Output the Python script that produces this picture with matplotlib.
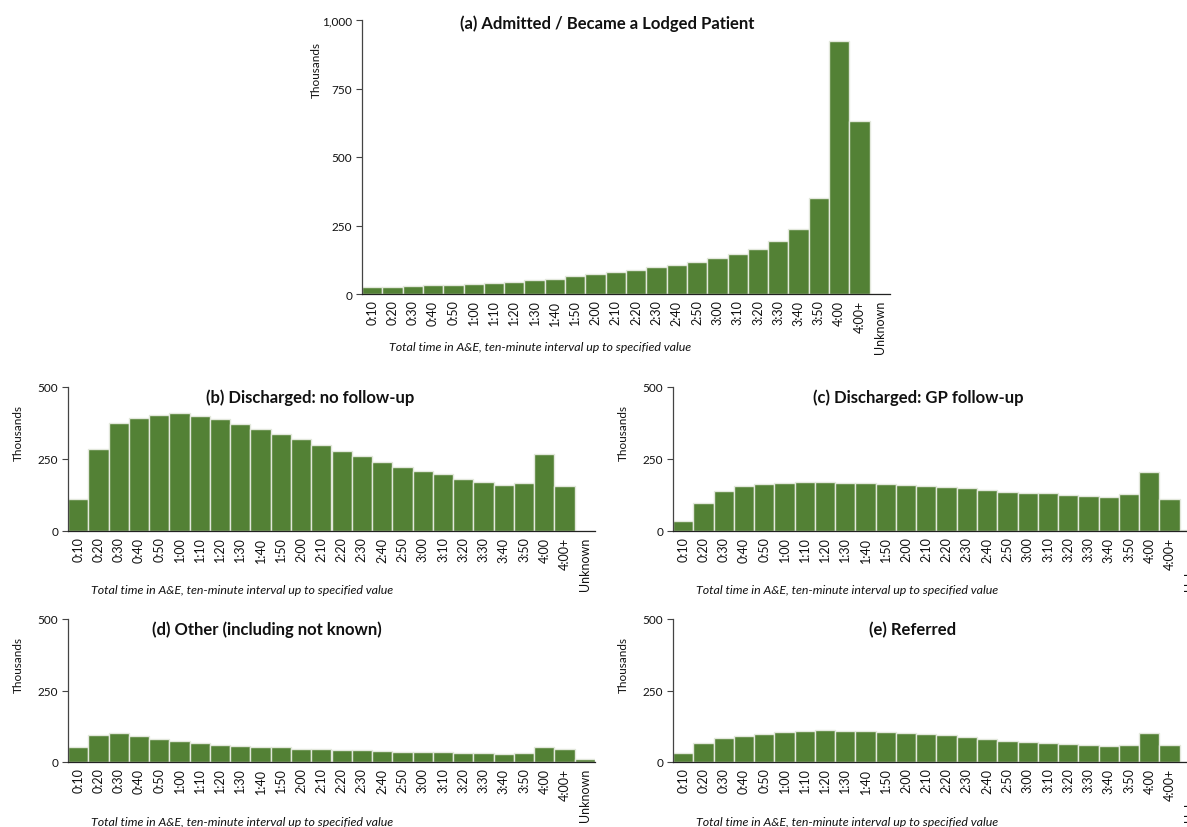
import matplotlib
matplotlib.use("Agg")
import matplotlib.pyplot as plt
from matplotlib.ticker import FuncFormatter

plt.rcParams["font.family"] = ["Lato", "DejaVu Sans"]

categories = ["0:10", "0:20", "0:30", "0:40", "0:50", "1:00", "1:10", "1:20", "1:30",
              "1:40", "1:50", "2:00", "2:10", "2:20", "2:30", "2:40", "2:50", "3:00",
              "3:10", "3:20", "3:30", "3:40", "3:50", "4:00", "4:00+", "Unknown"]

# Attendances, thousands
admitted = [25, 25, 29, 32, 34, 36, 39, 44, 50, 56, 64, 72, 79, 87, 97, 106, 117, 130,
            146, 164, 193, 238, 352, 925, 631, 0]
discharged_no_followup = [112, 283, 375, 394, 403, 410, 398, 388, 371, 353, 336, 319, 298,
                          279, 260, 240, 221, 207, 199, 181, 169, 159, 167, 267, 156, 0]
discharged_gp_followup = [35, 97, 139, 156, 163, 167, 169, 169, 167, 165, 163, 160, 157,
                          152, 149, 143, 136, 132, 131, 125, 120, 118, 127, 206, 112, 2]
other = [52, 96, 103, 91, 82, 75, 68, 61, 57, 53, 51, 47, 45, 43, 41, 37, 36, 34, 34, 31,
         30, 28, 30, 52, 44, 9]
referred = [31, 67, 84, 90, 97, 105, 109, 111, 110, 109, 105, 103, 98, 93, 86, 80, 74, 69,
            67, 62, 58, 56, 60, 100, 58, 0]

titles = ["(a) Admitted / Became a Lodged Patient",
          "(b) Discharged: no follow-up",
          "(c) Discharged: GP follow-up",
          "(d) Other (including not known)",
          "(e) Referred"]
x_label = "Total time in A&E, ten-minute interval up to specified value"
y_label = "Thousands"

W, H = 1187, 828
fig = plt.figure(figsize=(W / 100, H / 100), dpi=100)


def px_axes(left, top, right, bottom):
    return fig.add_axes([left / W, 1 - bottom / H, (right - left) / W, (bottom - top) / H])


bar_color = "#538135"
edge_color = "#e3e8dc"
text_color = "#111111"

panels = [
    (px_axes(362, 21, 890, 295), admitted, 1000, [0, 250, 500, 750, 1000],
     (0.464, 0.989), (0.337, -0.19), (-0.087, 0.82)),
    (px_axes(68, 388, 595, 532), discharged_no_followup, 500, [0, 250, 500],
     (0.459, 0.93), (0.33, -0.403), (-0.095, 0.69)),
    (px_axes(673, 388, 1200, 532), discharged_gp_followup, 500, [0, 250, 500],
     (0.465, 0.93), (0.33, -0.403), (-0.095, 0.69)),
    (px_axes(68, 620, 595, 763), other, 500, [0, 250, 500],
     (0.378, 0.93), (0.33, -0.413), (-0.095, 0.685)),
    (px_axes(673, 620, 1200, 763), referred, 500, [0, 250, 500],
     (0.454, 0.93), (0.33, -0.413), (-0.095, 0.685)),
]

for (ax, values, ymax, yticks, tpos, xlpos, ylpos), title in zip(panels, titles):
    x = list(range(len(categories)))
    ax.bar(x, values, width=1.0, color=bar_color, edgecolor=edge_color, linewidth=1.0)
    ax.set_xlim(-0.5, len(categories) - 0.5)
    ax.set_ylim(0, ymax)
    ax.set_yticks(yticks)
    ax.yaxis.set_major_formatter(FuncFormatter(lambda v, p: f"{int(v):,}"))
    ax.set_xticks(x)
    ax.set_xticklabels(categories, rotation=90, fontsize=9, color=text_color)
    ax.tick_params(axis="x", length=0, pad=4)
    ax.tick_params(axis="y", length=4, width=0.8, labelsize=8.5, colors="#444444",
                   labelcolor=text_color, pad=3)
    for side in ("top", "right"):
        ax.spines[side].set_visible(False)
    ax.spines["left"].set_color("#444444")
    ax.spines["bottom"].set_color("#222222")
    ax.spines["left"].set_linewidth(0.9)
    ax.spines["bottom"].set_linewidth(0.9)
    ax.set_facecolor("none")
    ax.text(tpos[0], tpos[1], title, transform=ax.transAxes, ha="center", va="center",
            fontsize=12, fontweight="bold", color=text_color)
    ax.text(xlpos[0], xlpos[1], x_label, transform=ax.transAxes, ha="center", va="center",
            fontsize=8.9, style="italic", color=text_color)
    ax.text(ylpos[0], ylpos[1], y_label, transform=ax.transAxes, ha="center", va="center",
            rotation=90, fontsize=8.5, color=text_color)

fig.savefig("out.png", dpi=100, facecolor="white")
